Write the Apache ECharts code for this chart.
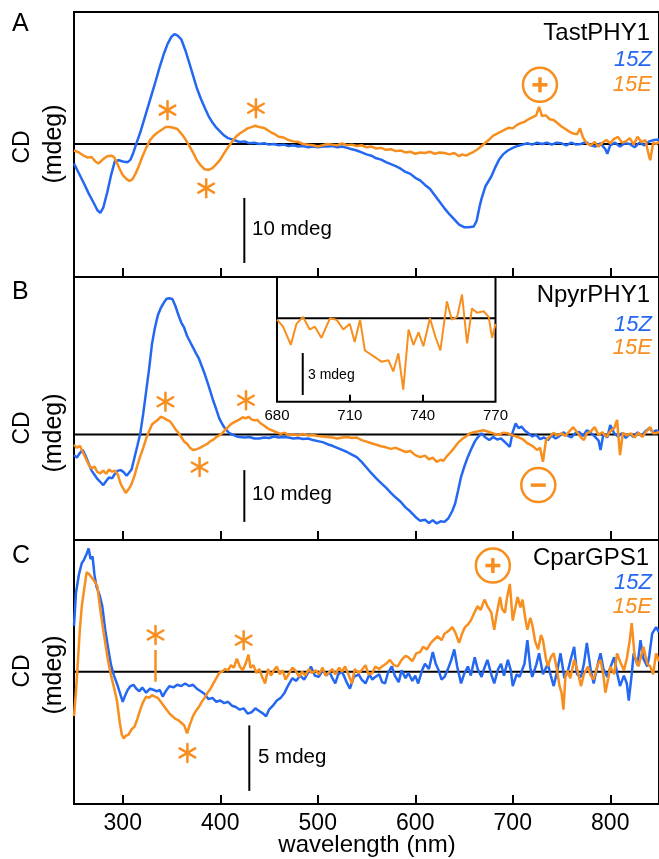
<!DOCTYPE html>
<html>
<head>
<meta charset="utf-8">
<title>CD spectra</title>
<script src="https://cdn.jsdelivr.net/npm/echarts@6/dist/echarts.min.js"></script>
<style>
  html, body { margin: 0; padding: 0; background: #fff; }
  #main { width: 659px; height: 859px; }
</style>
</head>
<body>
<div id="main"></div>
<script>
// wavelength ticks (nm)
const xTicks = [300, 400, 500, 600, 700, 800]
const insetTicks = [680, 710, 740, 770]

// panel A - TastPHY1, [wavelength, mdeg]
const aZ = [[250,-3.0],[255,-4.5],[260,-6.0],[265,-7.6],[270,-9.0],[274,-10.2],[277,-10.6],[280,-9.8],[284,-7.5],[288,-4.8],[292,-2.6],[296,-2.5],[300,-2.7],[305,-2.8],[308,-2.4],[311,-1.3],[314,0.1],[318,1.8],[322,3.8],[326,5.8],[330,7.8],[334,9.8],[338,11.9],[342,13.8],[346,15.4],[350,16.5],[353,16.9],[356,16.7],[360,16.1],[364,14.5],[368,12.6],[372,10.6],[376,8.6],[380,7.0],[384,5.6],[388,4.3],[392,3.3],[396,2.5],[400,1.9],[404,1.3],[408,0.9],[412,0.7],[416,0.5],[420,0.3],[425,0.4],[430,0.1],[435,0.2],[440,0.0],[445,0.1],[450,-0.1],[455,0.0],[460,-0.2],[465,-0.1],[470,-0.3],[475,-0.2],[480,-0.4],[485,-0.3],[490,-0.5],[495,-0.4],[500,-0.5],[505,-0.4],[510,-0.4],[515,-0.3],[520,-0.5],[525,-0.4],[530,-0.6],[535,-0.8],[540,-1.0],[545,-1.3],[550,-1.6],[555,-1.8],[560,-2.2],[565,-2.4],[570,-2.8],[575,-3.1],[580,-3.4],[585,-3.8],[590,-4.3],[595,-4.6],[600,-5.2],[605,-5.6],[610,-6.3],[615,-6.9],[620,-7.9],[625,-8.9],[630,-9.9],[635,-10.8],[640,-11.6],[645,-12.4],[650,-12.8],[655,-12.8],[660,-12.7],[663,-11.8],[666,-9.6],[668,-8.4],[672,-6.5],[678,-5.0],[682,-3.6],[686,-2.4],[690,-1.6],[695,-1.0],[700,-0.6],[705,-0.3],[710,-0.1],[715,0.1],[720,-0.1],[725,0.2],[730,0.0],[735,0.2],[740,-0.1],[745,0.2],[750,0.1],[755,-0.2],[760,0.2],[765,-0.1],[770,0.0],[775,0.3],[780,-0.2],[785,-0.4],[790,0.1],[795,-0.8],[797,-1.5],[800,-0.2],[805,0.2],[810,-0.4],[815,0.1],[820,0.0],[825,-0.5],[830,0.2],[835,-0.2],[840,0.4],[845,0.6],[850,0.7]]
const aE = [[250,-1.0],[255,-1.3],[260,-1.8],[264,-2.1],[268,-2.0],[272,-2.7],[275,-3.0],[278,-2.6],[281,-2.2],[284,-1.9],[288,-1.8],[291,-2.0],[294,-2.9],[297,-3.9],[300,-4.8],[304,-5.4],[307,-5.7],[310,-5.4],[313,-4.6],[316,-3.6],[320,-2.0],[324,-0.6],[328,0.6],[332,1.3],[336,1.8],[340,2.2],[344,2.6],[348,2.6],[352,2.5],[356,2.3],[360,1.6],[364,0.8],[368,-0.2],[372,-1.3],[376,-2.5],[380,-3.3],[384,-3.9],[388,-4.0],[392,-3.7],[396,-3.1],[400,-2.4],[404,-1.4],[408,-0.5],[412,0.3],[416,1.1],[420,1.6],[424,2.0],[428,2.4],[432,2.6],[436,2.8],[440,2.6],[444,2.5],[448,2.2],[452,1.8],[456,1.5],[460,1.1],[465,1.0],[470,0.6],[475,0.4],[480,0.3],[485,0.0],[490,-0.1],[495,-0.2],[500,-0.4],[505,-0.2],[510,0.0],[515,-0.1],[520,-0.2],[525,0.1],[530,-0.2],[535,-0.1],[540,-0.3],[545,-0.2],[550,-0.5],[555,-0.4],[560,-0.7],[565,-0.6],[570,-0.9],[575,-0.8],[580,-1.1],[585,-1.0],[590,-1.3],[595,-1.2],[600,-1.5],[605,-1.3],[610,-1.4],[615,-1.2],[620,-1.5],[625,-1.3],[630,-1.4],[635,-1.6],[640,-1.4],[645,-1.9],[648,-1.6],[652,-1.8],[656,-1.5],[660,-1.2],[664,-0.8],[668,-0.3],[672,0.2],[676,0.7],[680,1.3],[684,1.6],[688,1.9],[692,2.2],[696,2.5],[700,2.4],[704,2.9],[708,3.2],[712,3.4],[716,3.8],[720,4.1],[724,4.4],[727,5.7],[730,4.3],[734,4.4],[738,3.8],[742,3.7],[746,3.2],[750,2.7],[754,2.3],[758,1.9],[762,1.6],[766,1.5],[769,2.4],[772,1.0],[776,0.1],[780,-0.2],[784,0.3],[788,-0.4],[792,0.2],[796,0.6],[800,0.1],[804,0.8],[808,1.1],[812,0.2],[816,0.4],[820,0.9],[824,-0.1],[828,1.1],[832,0.3],[836,0.6],[839,-1.4],[841,-2.5],[844,0.2],[847,0.0],[850,0.3]]

// panel B - NpyrPHY1
const bZ = [[250,-4.0],[253,-4.5],[256,-3.6],[259,-3.0],[262,-4.2],[265,-5.6],[268,-7.0],[271,-7.8],[274,-8.6],[277,-9.2],[280,-9.8],[283,-9.0],[286,-8.3],[289,-8.5],[292,-7.6],[295,-7.0],[298,-6.9],[301,-7.3],[304,-8.0],[306,-8.2],[309,-6.8],[312,-4.5],[315,-2.2],[318,0.2],[321,4.0],[324,8.3],[327,12.6],[330,17.5],[333,20.6],[336,23.0],[339,24.4],[342,25.4],[345,26.2],[348,26.3],[351,26.1],[354,24.8],[357,23.1],[360,21.6],[363,20.6],[366,19.0],[369,17.9],[372,16.8],[375,15.7],[378,14.7],[381,13.2],[384,11.7],[387,10.0],[390,8.2],[393,6.4],[396,4.8],[399,3.1],[402,2.0],[405,1.1],[409,0.3],[413,-0.1],[417,-0.4],[420,-0.5],[425,-0.6],[430,-0.5],[435,-0.8],[440,-0.8],[445,-0.6],[450,-0.7],[455,-0.4],[460,-0.6],[465,-0.5],[470,-0.6],[475,-0.8],[480,-0.7],[485,-0.9],[490,-0.8],[495,-1.1],[500,-1.3],[505,-1.5],[510,-1.9],[515,-2.2],[520,-2.6],[525,-3.0],[530,-3.4],[535,-3.9],[540,-4.4],[545,-5.3],[550,-6.4],[555,-7.5],[560,-8.5],[565,-9.4],[570,-10.3],[575,-11.3],[580,-12.2],[585,-13.0],[590,-14.1],[595,-14.9],[600,-15.9],[605,-16.7],[610,-16.5],[614,-17.1],[618,-16.6],[622,-17.2],[626,-16.8],[630,-16.9],[634,-16.2],[638,-14.8],[641,-13.3],[644,-10.8],[647,-8.2],[650,-6.4],[654,-4.3],[658,-2.6],[661,-1.4],[664,-0.6],[668,0.2],[672,-0.6],[676,-1.1],[680,-0.5],[684,-1.0],[688,-0.8],[692,-1.5],[697,-2.4],[700,0.5],[703,2.1],[706,1.2],[709,1.5],[712,0.8],[716,0.2],[720,-0.4],[724,-0.1],[728,-0.9],[732,-0.6],[736,-1.1],[740,-0.2],[744,-0.8],[748,-0.3],[752,0.4],[756,-0.2],[760,-0.6],[764,0.2],[768,0.5],[772,-0.3],[776,0.8],[780,0.3],[784,-0.4],[788,-1.2],[790,-3.0],[793,0.1],[797,-0.6],[800,1.8],[804,0.2],[808,-0.4],[812,0.2],[816,-0.7],[820,0.1],[824,-0.5],[828,0.4],[832,-0.3],[836,0.6],[840,1.2],[844,0.4],[847,0.8],[850,0.5]]
const bE = [[250,-2.0],[253,-2.6],[256,-2.2],[259,-3.4],[262,-4.6],[265,-5.8],[268,-6.6],[271,-6.2],[274,-7.3],[277,-7.5],[280,-7.0],[283,-7.6],[286,-6.8],[289,-7.2],[292,-7.0],[295,-7.8],[298,-9.6],[301,-10.6],[303,-11.3],[306,-10.6],[309,-9.6],[312,-8.0],[315,-6.0],[318,-4.2],[321,-2.6],[324,-0.8],[327,0.6],[330,1.9],[333,2.4],[336,2.8],[339,3.4],[342,3.2],[345,2.8],[348,2.6],[351,1.9],[354,1.0],[357,0.3],[360,-0.5],[363,-1.4],[366,-1.8],[369,-2.6],[372,-3.0],[375,-2.9],[378,-2.7],[381,-2.4],[384,-2.1],[387,-1.8],[390,-1.3],[393,-1.0],[396,-0.5],[399,-0.2],[402,0.2],[405,0.9],[408,1.4],[411,2.0],[414,2.3],[417,2.6],[420,2.9],[423,3.3],[426,3.1],[429,3.4],[432,2.9],[435,2.7],[438,2.8],[441,2.2],[444,1.8],[447,1.4],[450,1.0],[454,0.7],[458,0.4],[462,0.1],[466,0.3],[470,-0.1],[475,0.0],[480,-0.2],[485,0.1],[490,-0.2],[495,-0.1],[500,-0.3],[505,-0.4],[510,-0.5],[515,-0.6],[520,-0.8],[525,-0.6],[530,-0.5],[535,-0.7],[540,-0.6],[545,-1.1],[550,-1.4],[555,-1.7],[560,-2.0],[565,-2.3],[570,-2.5],[575,-2.8],[580,-2.6],[585,-3.0],[590,-3.4],[595,-3.2],[600,-4.0],[605,-4.4],[610,-4.1],[614,-4.8],[618,-4.5],[622,-5.3],[626,-4.9],[629,-5.1],[632,-4.3],[636,-3.5],[640,-2.6],[644,-1.6],[648,-0.9],[652,-0.4],[656,0.2],[660,0.4],[665,0.6],[670,0.8],[675,0.5],[680,0.2],[685,-0.1],[690,0.3],[695,0.2],[700,-0.2],[705,-0.5],[710,-0.9],[715,-1.7],[720,-2.2],[725,-3.0],[728,-2.6],[731,-5.3],[734,-1.2],[738,-0.4],[742,0.3],[746,-0.2],[750,0.2],[754,-0.3],[758,0.6],[762,1.4],[766,0.4],[770,-0.6],[773,-1.1],[776,0.2],[780,0.6],[784,1.4],[788,-0.1],[792,0.4],[796,-0.5],[800,0.6],[804,1.2],[807,2.8],[810,-4.0],[813,0.3],[817,-0.2],[821,0.2],[825,-0.6],[829,0.3],[833,-0.5],[837,0.6],[841,1.4],[844,0.2],[847,0.2],[850,0.5]]

// panel B inset, 15E zoomed 680-770 nm
const inset = [[680,-0.1],[682.5,-0.6],[685.7,-1.9],[688,-0.4],[690.7,0.1],[693.5,-0.8],[695.6,-0.6],[698.3,-1.4],[701.8,0.0],[704.5,-0.1],[707.3,-0.8],[710,-0.4],[712,-1.7],[714.2,-0.1],[716.2,-2.3],[719.7,-2.7],[723,-3.1],[725.9,-3.0],[727.9,-3.8],[730,-2.5],[732,-5.1],[734.2,-0.8],[736.2,-1.9],[738.3,-1.0],[740.3,-2.0],[743,0.0],[745.2,-1.3],[747.3,-2.3],[750,1.2],[752,-0.1],[754.2,0.1],[756.2,1.7],[758.3,-1.8],[760.3,0.7],[762.4,0.4],[765.1,0.5],[767.2,0.1],[768.6,-1.4],[770,-0.4]]

// panel C - CparGPS1
const cZ = [[250,3.5],[252,6.0],[255,7.4],[258,8.3],[260,8.5],[263,9.0],[265,9.4],[267,8.6],[269,8.8],[271,7.4],[273,6.5],[276,5.9],[279,5.0],[282,3.2],[285,1.8],[288,0.5],[291,-0.3],[294,-0.9],[297,-1.6],[300,-2.3],[302,-1.9],[305,-1.4],[308,-1.1],[311,-1.0],[314,-1.3],[317,-1.5],[320,-1.2],[324,-1.6],[328,-1.3],[332,-1.4],[335,-1.5],[338,-1.4],[341,-1.9],[344,-1.5],[348,-1.1],[352,-1.2],[356,-1.0],[360,-1.1],[364,-0.9],[368,-1.1],[372,-1.0],[376,-1.3],[380,-1.5],[384,-1.7],[388,-2.1],[392,-2.0],[396,-2.3],[400,-2.2],[404,-2.4],[408,-2.3],[412,-2.6],[416,-2.7],[420,-2.9],[424,-2.8],[428,-3.2],[432,-3.1],[436,-2.8],[440,-3.0],[444,-3.2],[447,-3.4],[450,-2.9],[454,-2.6],[458,-2.2],[462,-2.0],[466,-1.6],[470,-1.0],[474,-0.5],[478,-0.7],[482,-0.3],[486,-0.6],[490,-0.1],[493,0.4],[497,-0.3],[501,-0.4],[505,0.1],[509,-0.3],[512,0.0],[515,-0.5],[518,-0.9],[521,-0.2],[525,0.0],[529,-0.7],[533,-1.3],[537,-0.4],[542,-0.2],[545,-0.6],[549,-0.9],[553,-0.2],[556,-0.6],[559,-0.4],[563,-0.2],[566,-0.8],[569,-0.9],[572,-0.1],[576,0.4],[579,-0.3],[583,-0.8],[586,0.1],[590,-0.5],[593,-0.1],[597,-0.7],[600,-0.3],[603,-0.9],[607,0.1],[610,0.6],[614,0.2],[618,1.5],[621,0.6],[624,0.1],[627,-0.6],[630,-0.4],[634,0.3],[637,0.9],[640,1.7],[643,0.4],[647,-0.9],[650,-0.2],[654,0.4],[657,-0.3],[661,1.1],[664,0.2],[668,-0.4],[671,0.3],[674,0.9],[678,-0.2],[681,-0.9],[685,0.2],[688,0.6],[691,-0.3],[695,0.9],[698,0.1],[700,-1.1],[704,-0.2],[707,-0.4],[710,0.2],[712,0.6],[715,2.4],[718,0.3],[720,-0.4],[724,0.5],[727,1.4],[731,-0.2],[736,0.6],[739,-0.3],[742,-1.1],[746,0.2],[749,1.4],[753,-0.5],[756,-0.1],[759,0.8],[763,1.9],[766,-0.2],[770,-0.4],[773,0.6],[776,2.2],[780,0.1],[783,-0.9],[787,0.5],[790,1.4],[793,0.2],[797,-0.4],[800,0.3],[804,1.1],[807,-0.1],[810,-1.1],[814,-0.3],[817,-0.9],[819,-2.2],[822,-0.2],[824,1.4],[828,0.5],[831,2.4],[834,1.0],[838,0.4],[840,1.2],[843,2.9],[847,3.4],[850,3.0]]
const cE = [[250,-3.4],[252,-1.5],[254,0.8],[256,3.2],[258,5.0],[261,6.6],[263,7.6],[266,7.4],[268,7.3],[271,6.9],[274,6.5],[277,4.7],[280,3.2],[282,2.2],[285,0.8],[288,-0.3],[291,-1.2],[294,-2.2],[297,-3.9],[299,-4.8],[301,-5.1],[303,-4.9],[306,-4.8],[309,-4.4],[312,-4.2],[315,-3.6],[318,-2.9],[321,-2.3],[324,-1.9],[327,-2.0],[330,-1.8],[333,-1.9],[336,-2.0],[339,-2.3],[342,-2.6],[345,-2.9],[348,-3.2],[351,-3.4],[354,-3.6],[357,-3.7],[360,-3.9],[363,-4.1],[366,-4.7],[369,-4.0],[372,-3.4],[375,-3.0],[378,-2.7],[381,-2.3],[384,-2.0],[387,-1.6],[390,-1.3],[393,-0.9],[396,-0.5],[399,-0.1],[402,0.0],[405,0.2],[408,0.1],[411,0.5],[414,0.3],[417,1.0],[420,0.4],[423,0.1],[426,0.6],[429,1.3],[431,0.3],[434,0.5],[437,-0.1],[440,0.2],[443,-0.4],[446,-0.9],[449,0.2],[452,-0.3],[455,0.1],[458,0.4],[461,-0.2],[464,0.1],[467,-0.6],[470,-0.2],[474,0.3],[477,0.1],[481,-0.4],[484,0.0],[487,-0.3],[491,0.2],[494,-0.1],[498,0.1],[501,-0.2],[505,0.3],[508,-0.3],[511,-0.1],[515,0.2],[518,-0.2],[522,0.3],[525,0.0],[528,0.4],[532,-0.3],[535,-0.9],[538,0.2],[542,-0.1],[545,0.1],[549,0.5],[552,-0.2],[556,-0.1],[559,0.4],[563,0.2],[566,0.4],[570,0.6],[574,0.9],[578,0.5],[582,0.4],[586,0.9],[590,1.2],[593,1.1],[597,0.8],[601,1.4],[605,1.5],[608,1.9],[612,1.7],[616,2.2],[620,2.5],[623,2.7],[627,2.4],[630,2.9],[634,3.1],[638,3.4],[641,3.0],[645,2.2],[648,2.9],[651,3.4],[654,3.6],[657,3.9],[660,4.4],[664,5.0],[667,4.7],[671,5.5],[674,5.0],[678,4.5],[681,3.2],[684,4.6],[687,5.7],[689,4.8],[692,4.5],[694,5.6],[697,6.7],[700,3.9],[703,5.0],[705,5.7],[708,4.9],[710,5.5],[713,4.0],[715,3.2],[718,4.1],[720,3.6],[723,2.3],[726,1.7],[729,2.8],[731,2.4],[734,1.0],[736,0.4],[739,1.1],[742,1.4],[745,0.3],[748,-1.1],[750,-1.6],[752,-2.9],[754,-0.4],[756,0.1],[759,-0.5],[763,0.9],[766,0.2],[770,-1.1],[773,-0.2],[777,0.4],[780,-0.3],[783,-0.6],[787,0.5],[790,0.9],[793,-0.3],[795,-1.6],[798,-0.5],[800,0.4],[804,-0.2],[807,1.4],[811,0.6],[814,0.1],[817,1.0],[820,2.4],[822,3.7],[825,1.2],[829,0.4],[832,1.3],[834,1.9],[838,0.6],[841,0.4],[844,-0.2],[847,1.4],[850,0.8]]

// annotations in data units: [grid, wavelength, mdeg]
const stars = [[0,345.9,5.2],[0,436.6,5.5],[0,385.6,-6.8],[1,343.8,6.3],[1,426.4,6.6],[1,378.8,-6.3],[2,333.6,2.8],[2,424,2.4],[2,366.3,-6.2]]
const signs = [[0,727.9,9.1,'+'],[1,726.2,-9.8,'-'],[2,679.6,8.1,'+']]

const BLUE = '#2468f2'
const ORANGE = '#f78e1e'
const FONT = "'Liberation Sans', Arial, Helvetica, sans-serif"

const chart = echarts.init(document.getElementById('main'), null, { renderer: 'canvas' })

function xAx (g, labels) {
  return {
    type: 'value', gridIndex: g, min: 250, max: 850,
    axisLine: { show: false, onZero: false },
    splitLine: { show: false },
    axisTick: { show: true, inside: true, length: 9, customValues: xTicks, lineStyle: { color: '#000', width: 2 } },
    axisLabel: { show: labels, customValues: xTicks, fontSize: 23, color: '#000', fontFamily: FONT, margin: 8 }
  }
}
function yAx (g, min, max) {
  return { type: 'value', gridIndex: g, min: min, max: max, show: false, splitLine: { show: false } }
}
function line (g, data, color, width, z) {
  return {
    type: 'line', xAxisIndex: g, yAxisIndex: g, data: data,
    showSymbol: false, symbol: 'none', silent: true, z: z || 2,
    lineStyle: { color: color, width: width }, itemStyle: { color: color }
  }
}

const frame = { show: true, borderColor: '#000', borderWidth: 2, backgroundColor: 'transparent' }

chart.setOption({
  animation: false,
  backgroundColor: '#fff',
  grid: [
    Object.assign({ left: 74, top: 12, width: 588, height: 265 }, frame),
    Object.assign({ left: 74, top: 277, width: 588, height: 263 }, frame),
    Object.assign({ left: 74, top: 540, width: 588, height: 264 }, frame),
    Object.assign({ left: 277, top: 277, width: 218.5, height: 124.7 }, frame, { backgroundColor: '#fff' })
  ],
  xAxis: [
    xAx(0, false), xAx(1, false), xAx(2, true),
    {
      type: 'value', gridIndex: 3, min: 680, max: 770,
      axisLine: { show: false, onZero: false }, splitLine: { show: false },
      axisTick: { show: true, inside: true, length: 7, customValues: [710, 740], lineStyle: { color: '#000', width: 2 } },
      axisLabel: { customValues: insetTicks, fontSize: 15, color: '#000', fontFamily: FONT, margin: 7 }
    }
  ],
  yAxis: [yAx(0, -20.46, 20.3), yAx(1, -20.4, 30.4), yAx(2, -10.1, 10.05), yAx(3, -5.96, 2.95)],
  series: [
    line(0, [[250, 0], [850, 0]], '#000', 2, 1),
    line(0, aZ, BLUE, 2.5),
    line(0, aE, ORANGE, 2.5),
    line(0, [[424.7, -8.3], [424.7, -18.3]], '#000', 2),
    line(1, [[250, 0], [850, 0]], '#000', 2, 1),
    line(1, bZ, BLUE, 2.5),
    line(1, bE, ORANGE, 2.5),
    line(1, [[424.7, -6.9], [424.7, -16.9]], '#000', 2),
    line(2, [[250, 0], [850, 0]], '#000', 2, 1),
    line(2, cZ, BLUE, 2.5),
    line(2, cE, ORANGE, 2.5),
    line(2, [[429.8, -4.1], [429.8, -9.1]], '#000', 2),
    line(2, [[333.6, 1.66], [333.6, -0.76]], ORANGE, 2.5),
    line(3, [[680, 0], [770, 0]], '#000', 2, 1),
    line(3, inset, ORANGE, 2),
    line(3, [[690.6, -2.48], [690.6, -5.48]], '#000', 2)
  ]
})

// text and symbols
function txt (x, y, t, size, fill, align, opts) {
  return Object.assign({
    type: 'text', x: x, y: y, z: 100, silent: true,
    style: Object.assign({ text: t, fontSize: size, fontFamily: FONT, fill: fill, textAlign: align, textVerticalAlign: 'middle' }, (opts && opts.style) || {})
  }, (opts && opts.el) || {})
}

const graphic = [
  txt(12, 24, 'A', 25, '#000', 'left'),
  txt(12, 292, 'B', 25, '#000', 'left'),
  txt(12, 556, 'C', 25, '#000', 'left'),
  txt(650, 33, 'TastPHY1', 24, '#000', 'right'),
  txt(652, 60, '15Z', 22, BLUE, 'right', { style: { fontStyle: 'italic' } }),
  txt(652, 85, '15E', 22, ORANGE, 'right', { style: { fontStyle: 'italic' } }),
  txt(650, 295, 'NpyrPHY1', 24, '#000', 'right'),
  txt(652, 325, '15Z', 22, BLUE, 'right', { style: { fontStyle: 'italic' } }),
  txt(652, 348, '15E', 22, ORANGE, 'right', { style: { fontStyle: 'italic' } }),
  txt(649, 558, 'CparGPS1', 24, '#000', 'right'),
  txt(652, 583, '15Z', 22, BLUE, 'right', { style: { fontStyle: 'italic' } }),
  txt(652, 607, '15E', 22, ORANGE, 'right', { style: { fontStyle: 'italic' } }),
  txt(252, 229, '10 mdeg', 20.5, '#000', 'left'),
  txt(252, 494, '10 mdeg', 20.5, '#000', 'left'),
  txt(258, 757, '5 mdeg', 20.5, '#000', 'left'),
  txt(308, 375, '3 mdeg', 14, '#000', 'left'),
  txt(367, 845, 'wavelength (nm)', 24, '#000', 'center')
]
// rotated y labels
;[[147, 144], [428, 433], [671, 675]].forEach(function (p) {
  graphic.push(txt(22.5, p[0], 'CD', 23, '#000', 'center', { el: { rotation: Math.PI / 2 } }))
  graphic.push(txt(54, p[1], '(mdeg)', 25, '#000', 'center', { el: { rotation: Math.PI / 2 } }))
})

stars.forEach(function (s) {
  const p = chart.convertToPixel({ gridIndex: s[0] }, [s[1], s[2]])
  ;[90, 30, -30].forEach(function (a) {
    const r = a * Math.PI / 180
    const dx = 9 * Math.cos(r)
    const dy = 9 * Math.sin(r)
    graphic.push({
      type: 'line', z: 100, silent: true,
      shape: { x1: p[0] - dx, y1: p[1] - dy, x2: p[0] + dx, y2: p[1] + dy },
      style: { stroke: ORANGE, lineWidth: 2.5, lineCap: 'round' }
    })
  })
})

signs.forEach(function (s) {
  const p = chart.convertToPixel({ gridIndex: s[0] }, [s[1], s[2]])
  graphic.push({
    type: 'circle', z: 100, silent: true,
    shape: { cx: p[0], cy: p[1], r: 17 },
    style: { fill: 'none', stroke: ORANGE, lineWidth: 2.5 }
  })
  graphic.push({
    type: 'line', z: 100, silent: true,
    shape: { x1: p[0] - 7.5, y1: p[1], x2: p[0] + 7.5, y2: p[1] },
    style: { stroke: ORANGE, lineWidth: 3.5 }
  })
  if (s[3] === '+') {
    graphic.push({
      type: 'line', z: 100, silent: true,
      shape: { x1: p[0], y1: p[1] - 7.5, x2: p[0], y2: p[1] + 7.5 },
      style: { stroke: ORANGE, lineWidth: 3.5 }
    })
  }
})

chart.setOption({ graphic: graphic })
</script>
</body>
</html>
